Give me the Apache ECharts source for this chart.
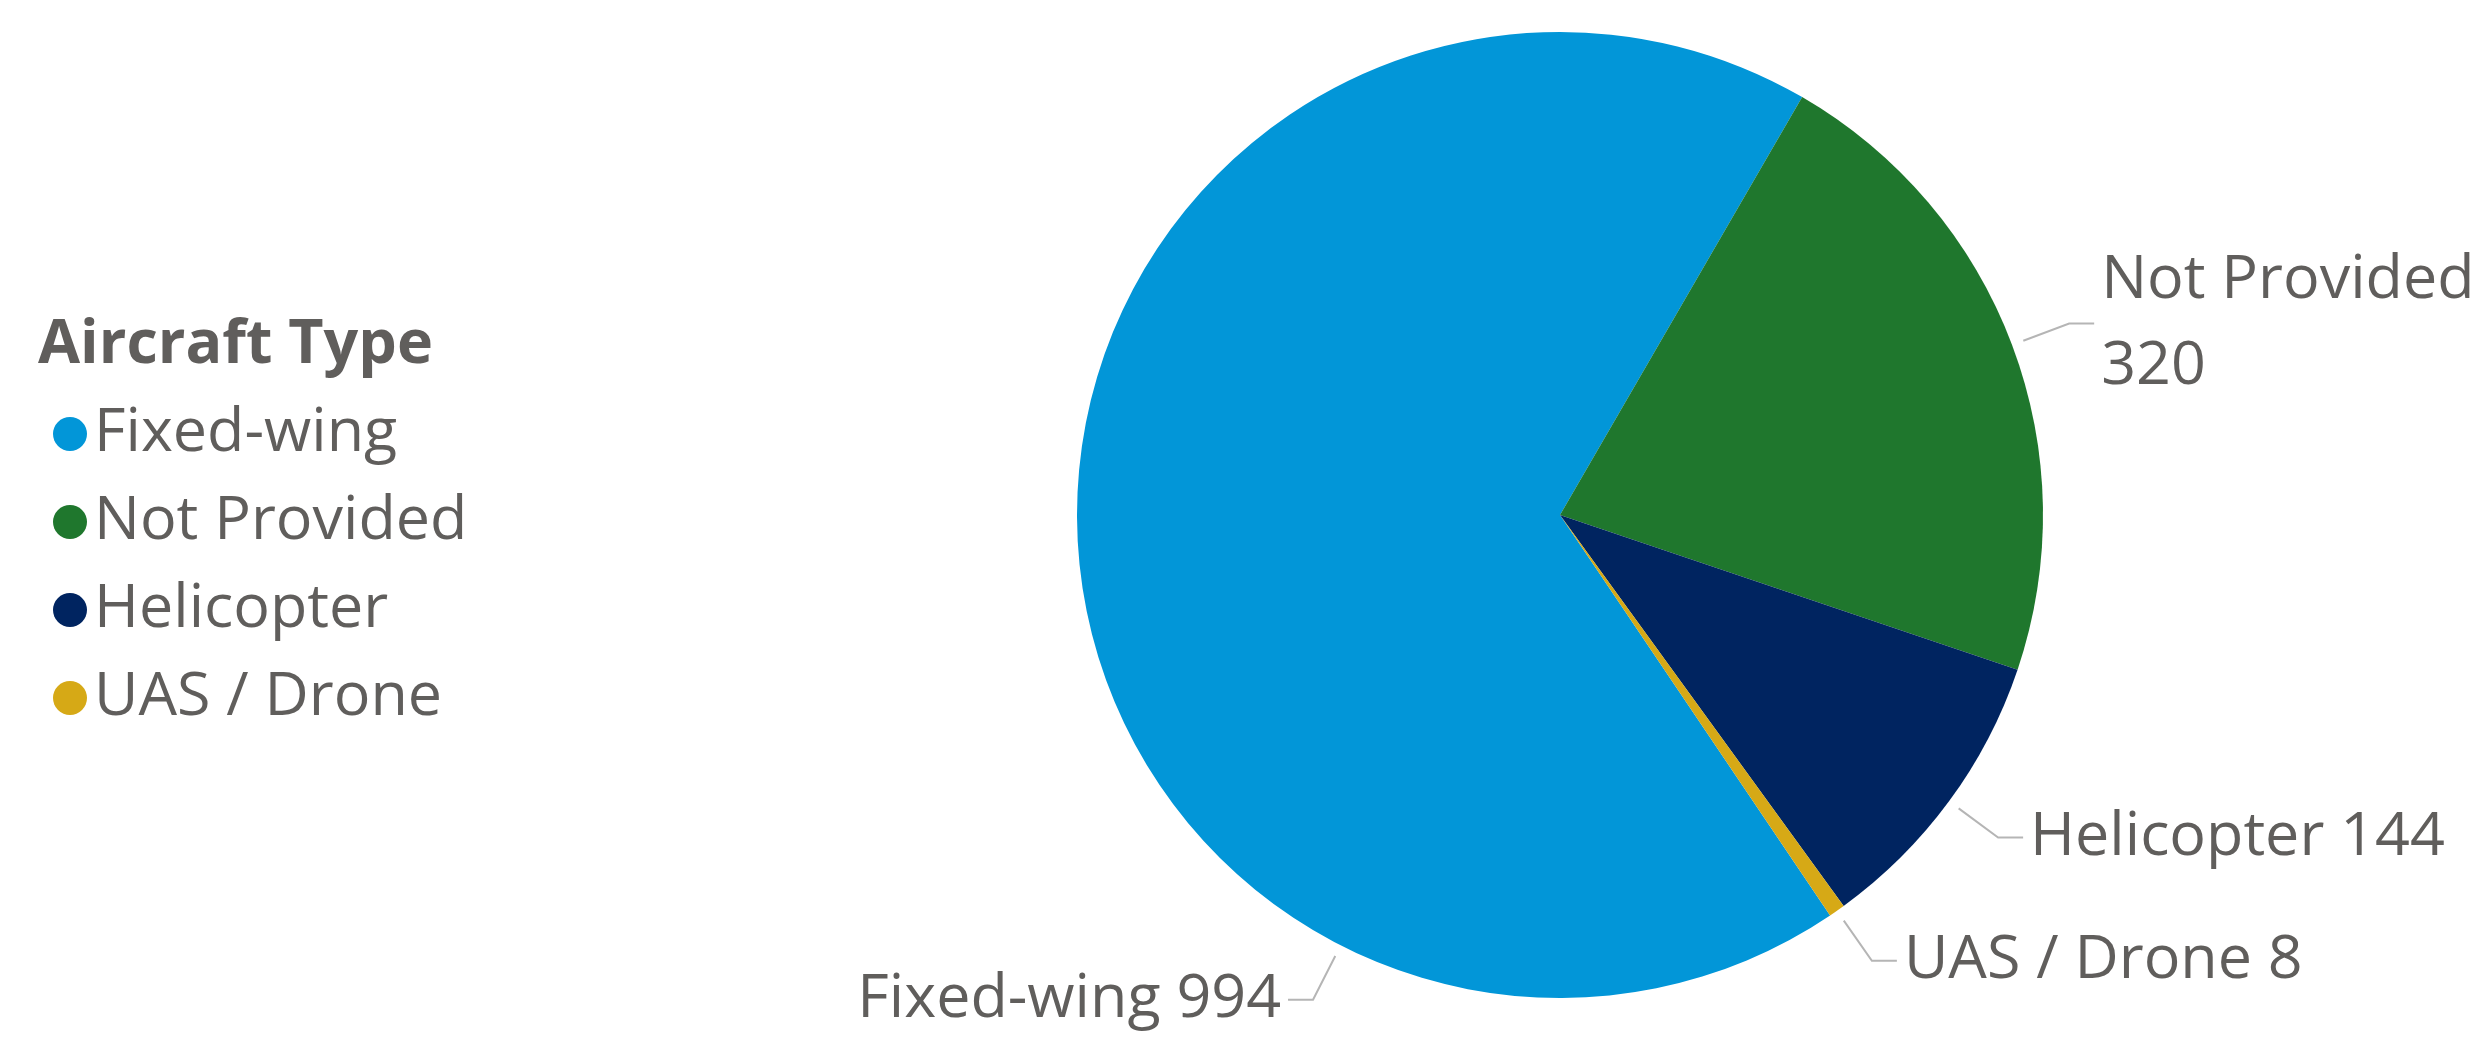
<!DOCTYPE html>
<html>
<head>
<meta charset="utf-8">
<script src="https://cdn.jsdelivr.net/npm/echarts@6/dist/echarts.min.js"></script>
<style>
html,body{margin:0;padding:0;background:#fff;}
#chart{width:2479px;height:1039px;}
</style>
</head>
<body>
<div id="chart"></div>
<script>
const legendTitle = 'Aircraft Type';
const categories = ['Fixed-wing', 'Not Provided', 'Helicopter', 'UAS / Drone'];
const counts = [994, 320, 144, 8];
const colors = ['#0296D8', '#1F772D', '#002460', '#D6A916'];

const FONT = '"Open Sans", "Noto Sans", sans-serif';
const TEXT = '#605E5C';
const CX = 1560, CY = 515, R = 483;
const GAP = 12, LEN1 = 61, LEN2 = 25, TXTGAP = 7;
const FIXED_LABEL_ANGLE = 207; // degrees clockwise from 12 o'clock (label placement)

const chart = echarts.init(document.getElementById('chart'), null, {renderer: 'canvas'});

const data = categories.map((c, i) => ({name: c, value: counts[i], itemStyle: {color: colors[i]}}));

chart.setOption({
  animation: false,
  backgroundColor: '#ffffff',
  title: {
    text: legendTitle,
    left: 33,
    top: 306,
    textStyle: {fontFamily: FONT, fontWeight: 'bold', fontSize: 61, color: TEXT, lineHeight: 70}
  },
  legend: {
    orient: 'vertical',
    left: 48,
    top: 394,
    itemWidth: 34,
    itemHeight: 34,
    itemGap: 18,
    icon: 'circle',
    data: categories,
    textStyle: {fontFamily: FONT, fontSize: 61, color: TEXT, lineHeight: 70, padding: [0, 0, 0, 2]},
    selectedMode: false
  },
  series: [{
    type: 'pie',
    center: [CX, CY],
    radius: [0, R],
    startAngle: 304,
    clockwise: true,
    avoidLabelOverlap: false,
    emphasis: {disabled: true},
    itemStyle: {borderWidth: 0},
    label: {
      show: true,
      position: 'outer',
      alignTo: 'none',
      fontFamily: FONT,
      fontSize: 61,
      lineHeight: 86,
      color: TEXT,
      distanceToLabelLine: TXTGAP,
      formatter: p => p.name + (p.dataIndex === 1 ? '\n' : ' ') + p.value
    },
    labelLine: {
      show: true,
      length: LEN1,
      length2: LEN2,
      smooth: false,
      lineStyle: {color: '#B5B5B5', width: 2}
    },
    labelLayout: function (params) {
      if (params.dataIndex === 0) {
        const a = FIXED_LABEL_ANGLE * Math.PI / 180;
        const sx = Math.sin(a), sy = -Math.cos(a);
        const p0 = [CX + (R + GAP) * sx, CY + (R + GAP) * sy];
        const p1 = [CX + (R + LEN1) * sx, CY + (R + LEN1) * sy];
        const p2 = [p1[0] - LEN2, p1[1]];
        return {
          x: p2[0] - TXTGAP,
          y: p2[1],
          align: 'right',
          verticalAlign: 'middle',
          labelLinePoints: [p0, p1, p2]
        };
      }
      const pts = params.labelLinePoints;
      if (!pts) return {};
      const dx = pts[1][0] - pts[0][0], dy = pts[1][1] - pts[0][1];
      const d = Math.sqrt(dx * dx + dy * dy) || 1;
      const p0 = [pts[0][0] + dx / d * GAP, pts[0][1] + dy / d * GAP];
      return {labelLinePoints: [p0, pts[1], pts[2]]};
    },
    data: data
  }]
});
</script>
</body>
</html>
